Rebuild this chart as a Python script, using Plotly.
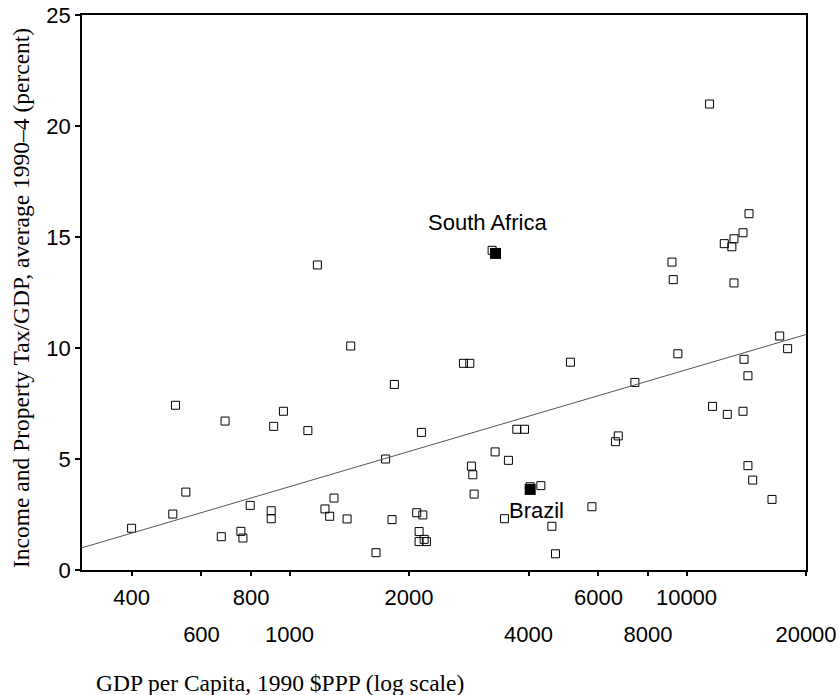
import numpy as np
import plotly.graph_objects as go

# GDP per capita (1990 $PPP) and income & property tax / GDP (%) -- open squares
gdp = [400, 516, 508, 548, 673, 688, 754, 763, 796, 899, 899, 912, 965, 1112, 1175,
       1228, 1262, 1294, 1396, 1426, 1651, 1746, 1812, 1837, 2091, 2166, 2120, 2120,
       2183, 2212, 2149, 2742, 2845, 2872, 2895, 2917, 3238, 3295, 3478, 3559, 3737,
       3908, 4038, 4296, 4580, 4676, 5100, 5777, 6622, 6730, 7413, 9190, 9260, 9510,
       11430, 11630, 12450, 12670, 13010, 13170, 13170, 13880, 13880, 13960, 14280,
       14280, 14370, 14680, 16420, 17170, 17980]
tax = [1.88, 7.42, 2.52, 3.51, 1.50, 6.71, 1.74, 1.44, 2.91, 2.67, 2.31, 6.47, 7.15,
       6.28, 13.74, 2.75, 2.42, 3.24, 2.30, 10.09, 0.78, 5.00, 2.27, 8.36, 2.58, 2.48,
       1.73, 1.28, 1.38, 1.28, 6.20, 9.31, 9.31, 4.68, 4.29, 3.42, 14.40, 5.32, 2.31,
       4.94, 6.34, 6.34, 3.75, 3.80, 1.97, 0.73, 9.36, 2.85, 5.78, 6.04, 8.45, 13.87,
       13.08, 9.74, 20.99, 7.37, 14.70, 7.01, 14.56, 14.92, 12.93, 15.19, 7.15, 9.49,
       8.75, 4.70, 16.05, 4.05, 3.18, 10.54, 9.97]

# Highlighted countries
hl_names = ["South Africa", "Brazil"]
hl_gdp = [3302, 4038]
hl_tax = [14.26, 3.63]
hl_label_gdp = [3150, 4198]
hl_label_tax = [15.64, 2.70]

# Axis ticks
row1_vals = [400, 800, 2000, 6000, 10000]
row2_vals = [600, 1000, 4000, 8000, 20000]
all_ticks = sorted(row1_vals + row2_vals)
y_ticks = [0, 5, 10, 15, 20, 25]
x_range = [300, 20000]

# Fitted line (OLS on log10 GDP)
all_x = np.log10(np.array(gdp + hl_gdp, dtype=float))
all_y = np.array(tax + hl_tax, dtype=float)
slope, intercept = np.polyfit(all_x, all_y, 1)
fit_x = np.array(x_range, dtype=float)
fit_y = intercept + slope * np.log10(fit_x)

TICKFONT = dict(family="Liberation Sans, Arial, sans-serif", size=22, color="black")
TITLEFONT = dict(family="Liberation Serif, Times New Roman, serif", size=23.5, color="black")

fig = go.Figure()
fig.add_trace(go.Scatter(x=fit_x, y=fit_y, mode="lines",
                         line=dict(color="#555555", width=1), hoverinfo="skip",
                         xaxis="x2", yaxis="y"))
fig.add_trace(go.Scatter(x=gdp, y=tax, mode="markers",
                         marker=dict(symbol="square-open", size=8, color="black",
                                     line=dict(width=1, color="black"))))
fig.add_trace(go.Scatter(x=hl_gdp, y=hl_tax, mode="markers",
                         marker=dict(symbol="square", size=11, color="black")))

for name, lx, ly in zip(hl_names, hl_label_gdp, hl_label_tax):
    fig.add_annotation(x=np.log10(lx), y=ly, text=name, showarrow=False,
                       xanchor="center", yanchor="middle", font=TICKFONT)

fig.add_annotation(xref="paper", yref="paper", x=0.0166, y=-0.2035,
                   text="GDP per Capita, 1990 $PPP (log scale)", showarrow=False,
                   xanchor="left", yanchor="middle", font=TITLEFONT)
fig.add_annotation(xref="paper", yref="paper", x=-0.0843, y=0.49,
                   text="Income and Property Tax/GDP, average 1990\u20134 (percent)",
                   showarrow=False, textangle=-90, xanchor="center", yanchor="middle",
                   font=TITLEFONT)

log_range = [np.log10(x_range[0]), np.log10(x_range[1])]
fig.update_layout(
    width=839, height=695,
    margin=dict(l=82, r=33, t=15, b=125, autoexpand=False),
    paper_bgcolor="white", plot_bgcolor="white",
    showlegend=False,
    xaxis=dict(type="log", range=log_range, tickvals=all_ticks,
               ticktext=[str(v) if v in row1_vals else "" for v in all_ticks],
               ticks="outside", ticklen=4, tickwidth=2, tickcolor="black",
               showline=True, linecolor="black", linewidth=1.5, mirror=True,
               showgrid=False, zeroline=False, tickfont=TICKFONT,
               ticklabelstandoff=3, automargin=False, ticklabeloverflow="allow"),
    xaxis2=dict(type="log", range=log_range, overlaying="x", anchor="y", side="bottom",
                tickvals=row2_vals, ticktext=[str(v) for v in row2_vals],
                ticks="", showline=False, showgrid=False, zeroline=False,
                tickfont=TICKFONT, ticklabelstandoff=49, automargin=False,
                ticklabeloverflow="allow"),
    yaxis=dict(range=[0, 25], tickvals=y_ticks, ticks="outside", ticklen=5,
               tickwidth=2, tickcolor="black", showline=True, linecolor="black",
               linewidth=1.5, mirror=True, showgrid=False, zeroline=False,
               tickfont=TICKFONT, ticklabelstandoff=0, automargin=False,
               ticklabeloverflow="allow"),
)

fig.write_html("out.html", config={"displayModeBar": False},
               post_script="document.body.style.margin='0';document.body.style.overflow='hidden';")
